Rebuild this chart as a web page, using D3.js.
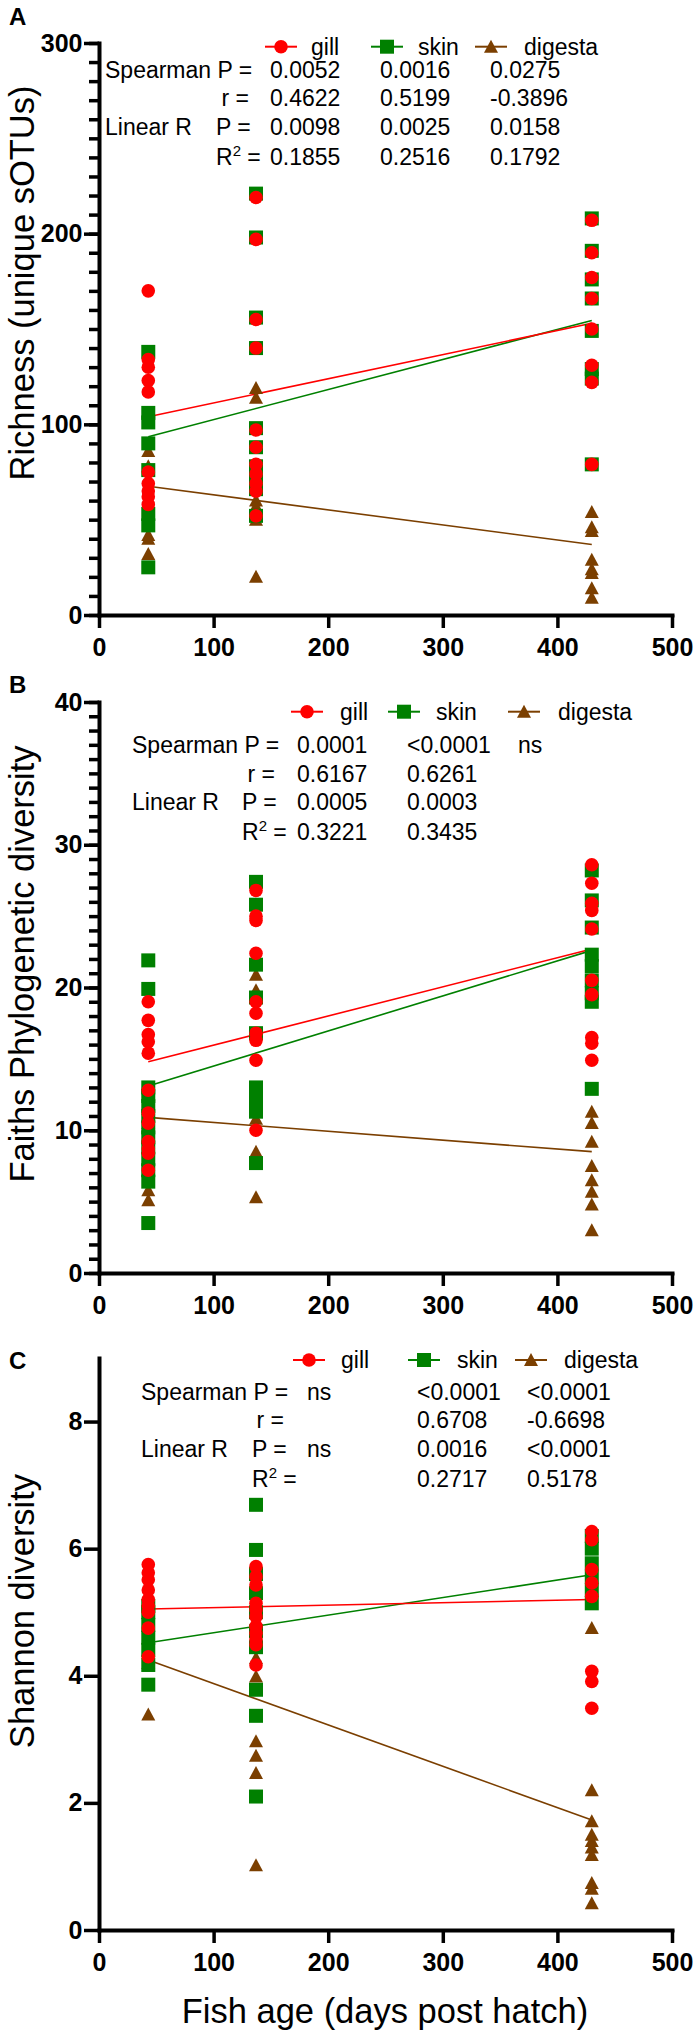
<!DOCTYPE html>
<html><head><meta charset="utf-8">
<script src="https://cdn.jsdelivr.net/npm/d3@7"></script>
<style>
body{margin:0;background:#fff}
svg{display:block}
text{font-family:"Liberation Sans",Arial,Helvetica,sans-serif;fill:#000}
</style></head><body>
<svg id="chart" width="699" height="2040"></svg>
<script>
// ---------------- data ----------------
const days = [43, 137, 430];
const seriesNames = ["gill", "skin", "digesta"];
const seriesColors = ["#ff0000", "#008000", "#7b3f00"];
const xTicks = [0, 100, 200, 300, 400, 500];

// Panel A: Richness (unique sOTUs), one inner array per age group
const richGill = [[170,134,130,123,117,75,69,65,62,58],[219,197,155,140,97,88,79,74,69,65,52],[207,190,177,166,150,131,122,79]];
const richSkin = [[138,106,101,90,76,53,47,25],[221,198,156,140,98,88,78,74,70,66,52],[208,191,176,166,149,129,124,79]];
const richDigesta = [[86,78,42,40,32],[119,114,60,57,50,20],[54,46,44,29,24,22,14,9]];
const richFit = [[104,153],[93.5,154.5],[67.5,37]];
const richTicks = [0, 100, 200, 300];
const richStats = [["0.0052","0.0016","0.0275"],["0.4622","0.5199","-0.3896"],["0.0098","0.0025","0.0158"],["0.1855","0.2516","0.1792"]];

// Panel B: Faiths Phylogenetic diversity
const faithGill = [[19.0,17.7,16.7,16.2,15.4,12.8,11.2,10.5,9.2,8.7,8.4,7.2],[26.8,25.0,24.7,22.4,19.0,18.2,16.8,16.3,14.9,10.0],[28.6,27.3,25.9,25.4,24.1,20.5,19.5,16.5,16.1,14.9]];
const faithSkin = [[21.9,19.9,13.0,12.4,11.7,11.0,10.2,9.5,8.8,8.0,7.2,6.4,3.5],[27.4,25.8,21.6,19.3,16.8,13.0,12.3,11.6,11.3,7.7],[28.2,26.1,24.2,22.3,21.5,20.5,19.6,19.0,12.9]];
const faithDigesta = [[12.5,11.5,10.5,9.5,7.9,5.8,5.1],[20.9,19.8,10.8,8.5,5.3],[11.3,10.5,9.2,7.5,6.5,5.7,4.8,3.0]];
const faithFit = [[14.8,22.7],[13.1,22.6],[10.9,8.5]];
const faithTicks = [0, 10, 20, 30, 40];
const faithStats = [["0.0001","<0.0001","ns"],["0.6167","0.6261",""],["0.0005","0.0003",""],["0.3221","0.3435",""]];

// Panel C: Shannon diversity
const shanGill = [[5.75,5.62,5.51,5.35,5.2,5.1,5.0,4.75,4.3],[5.72,5.56,5.43,5.14,5.04,4.93,4.78,4.67,4.57,4.49,4.17],[6.27,6.14,5.67,5.46,5.25,4.07,3.91,3.49]];
const shanSkin = [[5.1,5.0,4.8,4.6,4.4,4.17,3.86],[6.69,5.98,5.6,5.3,5.0,4.7,4.45,3.78,3.37,2.10],[6.2,6.0,5.77,5.56,5.35,5.14]];
const shanDigesta = [[4.6,4.4,4.2,3.39],[4.28,3.99,2.97,2.74,2.47,1.02],[4.75,2.2,1.71,1.5,1.4,1.3,1.18,0.74,0.65,0.42]];
const shanFit = [[5.05,5.2],[4.52,5.59],[4.25,1.73]];
const shanTicks = [0, 2, 4, 6, 8];
const shanStats = [["ns","<0.0001","<0.0001"],["","0.6708","-0.6698"],["ns","0.0016","<0.0001"],["","0.2717","0.5178"]];

// ---------------- layout ----------------
const panels = [
  {label:"A", labelY:25, top:43, bottom:615, ymax:300, ticks:richTicks, minor:10,
   series:[richGill, richSkin, richDigesta], fit:richFit, stats:richStats,
   title:"Richness (unique sOTUs)", titleC:283,
   legY:46.7, legM:[281,387,491], legT:[311,418,524],
   sLab:105, sREnd:249, sP:216, sVal:[270,380,490], sRows:[77.5,106,135,165]},
  {label:"B", labelY:693, top:702, bottom:1273, ymax:40, ticks:faithTicks, minor:1,
   series:[faithGill, faithSkin, faithDigesta], fit:faithFit, stats:faithStats,
   title:"Faiths Phylogenetic diversity", titleC:964,
   legY:711.7, legM:[307,404,524], legT:[340,436,558],
   sLab:132, sREnd:275, sP:242, sVal:[297,407,518], sRows:[752.7,781.7,810,840]},
  {label:"C", labelY:1369, top:1358, bottom:1930, ymax:9, ticks:shanTicks, minor:null,
   series:[shanGill, shanSkin, shanDigesta], fit:shanFit, stats:shanStats,
   title:"Shannon diversity", titleC:1611,
   legY:1360, legM:[309,424,531], legT:[341,457,564],
   sLab:141, sREnd:284, sP:252, sVal:[307,417,527], sRows:[1400,1428,1457,1487]}
];

const svg = d3.select("#chart");
const x = d3.scaleLinear().domain([0, 500]).range([99, 672]);

function marker(sel, k, color) {
  if (k === 0) {
    sel.append("circle").attr("r", 6.8).attr("fill", color);
  } else if (k === 1) {
    sel.append("rect").attr("x", -7).attr("y", -7).attr("width", 14).attr("height", 14).attr("fill", color);
  } else {
    sel.append("path").attr("d", "M0,-7L7,6L-7,6Z").attr("fill", color);
  }
}

panels.forEach(p => {
  const g = svg.append("g");
  const y = d3.scaleLinear().domain([0, p.ymax]).range([p.bottom, p.top]);

  // panel letter
  g.append("text").attr("x", 9).attr("y", p.labelY).attr("font-size", 24).attr("font-weight", "bold").text(p.label);

  // minor ticks
  if (p.minor) {
    const mg = g.append("g").attr("transform", `translate(${x(0)},0)`)
      .call(d3.axisLeft(y).tickValues(d3.range(0, p.ymax + p.minor / 2, p.minor)).tickSize(10).tickSizeOuter(0).tickFormat(""));
    mg.select(".domain").remove();
    mg.selectAll(".tick line").attr("stroke", "#000").attr("stroke-width", 3.5);
  }
  // y axis
  const yg = g.append("g").attr("transform", `translate(${x(0)},0)`)
    .call(d3.axisLeft(y).tickValues(p.ticks).tickSize(15).tickSizeOuter(0).tickPadding(1.5).tickFormat(d3.format("d")));
  yg.select(".domain").attr("stroke", "#000").attr("stroke-width", 4).attr("stroke-linecap", "square");
  yg.selectAll(".tick line").attr("stroke", "#000").attr("stroke-width", 3.5);
  yg.selectAll(".tick text").attr("font-size", 25).attr("font-weight", "bold")
    .attr("font-family", '"Liberation Sans",Arial,sans-serif').attr("fill", "#000");

  // x axis
  const xg = g.append("g").attr("transform", `translate(0,${p.bottom})`)
    .call(d3.axisBottom(x).tickValues(xTicks).tickSize(13).tickSizeOuter(0).tickPadding(10).tickFormat(d3.format("d")));
  xg.select(".domain").attr("stroke", "#000").attr("stroke-width", 4).attr("stroke-linecap", "square");
  xg.selectAll(".tick line").attr("stroke", "#000").attr("stroke-width", 3.5);
  xg.selectAll(".tick text").attr("font-size", 25).attr("font-weight", "bold")
    .attr("font-family", '"Liberation Sans",Arial,sans-serif').attr("fill", "#000");

  // y title
  g.append("text").attr("transform", `translate(34,${p.titleC}) rotate(-90)`)
    .attr("text-anchor", "middle").attr("font-size", 34.5).text(p.title);

  // regression lines (under markers)
  [2, 1, 0].forEach(k => {
    g.append("line")
      .attr("x1", x(days[0])).attr("y1", y(p.fit[k][0]))
      .attr("x2", x(days[2])).attr("y2", y(p.fit[k][1]))
      .attr("stroke", seriesColors[k]).attr("stroke-width", 1.6);
  });

  // markers: digesta first, then skin, then gill on top
  [2, 1, 0].forEach(k => {
    const pts = [];
    p.series[k].forEach((vals, i) => vals.forEach(v => pts.push({d: days[i], v})));
    g.append("g").selectAll("g").data(pts).join("g")
      .attr("transform", d => `translate(${x(d.d)},${y(d.v)})`)
      .each(function () { marker(d3.select(this), k, seriesColors[k]); });
  });

  // legend
  seriesNames.forEach((name, k) => {
    const lg = g.append("g").attr("transform", `translate(${p.legM[k]},${p.legY})`);
    lg.append("line").attr("x1", -16).attr("x2", 16).attr("stroke", seriesColors[k]).attr("stroke-width", 2);
    marker(lg, k, seriesColors[k]);
    g.append("text").attr("x", p.legT[k]).attr("y", p.legY + 8).attr("font-size", 23).text(name);
  });

  // stats block
  const fs = 23;
  const r = p.sRows;
  g.append("text").attr("x", p.sLab).attr("y", r[0]).attr("font-size", fs).text("Spearman P =");
  g.append("text").attr("x", p.sREnd).attr("y", r[1]).attr("font-size", fs).attr("text-anchor", "end").text("r =");
  g.append("text").attr("x", p.sLab).attr("y", r[2]).attr("font-size", fs).text("Linear R");
  g.append("text").attr("x", p.sP).attr("y", r[2]).attr("font-size", fs).text("P =");
  const rt = g.append("text").attr("x", p.sP).attr("y", r[3]).attr("font-size", fs);
  rt.append("tspan").text("R");
  rt.append("tspan").attr("font-size", 15).attr("dy", -9).text("2");
  rt.append("tspan").attr("dy", 9).text(" =");
  p.stats.forEach((row, ri) => row.forEach((val, ci) => {
    if (val) g.append("text").attr("x", p.sVal[ci]).attr("y", r[ri]).attr("font-size", fs).text(val);
  }));
});

// x title
svg.append("text").attr("x", 385).attr("y", 2023).attr("text-anchor", "middle").attr("font-size", 34.5)
  .text("Fish age (days post hatch)");
</script>
</body></html>
